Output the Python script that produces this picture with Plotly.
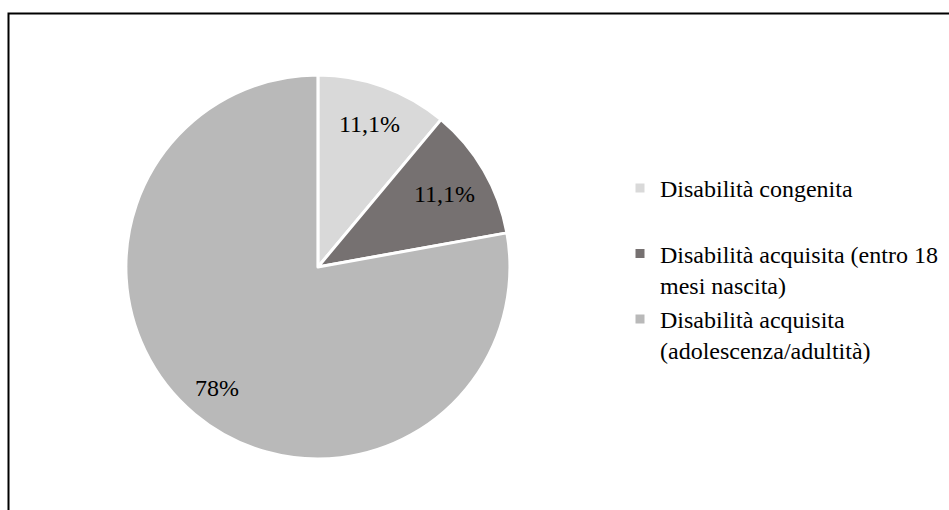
import math
import plotly.graph_objects as go

# Chart data
categories = [
    "Disabilità congenita",
    "Disabilità acquisita (entro 18<br>mesi nascita)",
    "Disabilità acquisita<br>(adolescenza/adultità)",
]
values = [11.1, 11.1, 78]
value_labels = ["11,1%", "11,1%", "78%"]

W, H = 949, 510
FONT = "Liberation Serif, Times New Roman, serif"
colors = ["#d9d9d9", "#767171", "#b9b9b9"]

# pie placement (paper fractions)
dom_x = [0.1325, 0.5375]
dom_y = [0.1, 0.853]

# pad the single-line entry so every legend entry occupies two lines
legend_names = [c if "<br>" in c else c + "<br>\u00a0" for c in categories]

fig = go.Figure(
    go.Pie(
        labels=legend_names,
        values=values,
        sort=False,
        direction="clockwise",
        rotation=0,
        marker=dict(colors=colors, line=dict(color="white", width=3)),
        textinfo="none",
        hoverinfo="label+percent",
        domain=dict(x=dom_x, y=dom_y),
    )
)

# value labels placed along each slice's bisector
cx = (dom_x[0] + dom_x[1]) / 2 * W
cy = (dom_y[0] + dom_y[1]) / 2 * H
radius = min((dom_x[1] - dom_x[0]) * W, (dom_y[1] - dom_y[0]) * H) / 2
total = sum(values)
start = 0.0
label_r = [0.79, 0.76, 0.82]
for v, txt, fr in zip(values, value_labels, label_r):
    mid = (start + v / 2) / total * 2 * math.pi
    start += v
    px = cx + fr * radius * math.sin(mid)
    py = cy + fr * radius * math.cos(mid)
    fig.add_annotation(
        x=px / W, y=py / H, xref="paper", yref="paper",
        text=txt, showarrow=False,
        font=dict(family=FONT, size=24, color="black"),
        xanchor="center", yanchor="middle",
    )

# outer frame
fig.add_shape(
    type="rect", xref="paper", yref="paper",
    x0=8.5 / W, x1=1.02, y0=-0.02, y1=1 - 13.5 / H,
    line=dict(color="black", width=2), fillcolor="rgba(0,0,0,0)",
)

fig.update_layout(
    width=W, height=H,
    margin=dict(l=0, r=0, t=0, b=0),
    paper_bgcolor="white", plot_bgcolor="white",
    font=dict(family=FONT, size=24, color="black"),
    legend=dict(
        x=620 / W, xanchor="left",
        y=1 - 166 / H, yanchor="top",
        valign="top",
        font=dict(family=FONT, size=24, color="black"),
        bgcolor="rgba(0,0,0,0)",
    ),
)

fig.write_html("out.html")
